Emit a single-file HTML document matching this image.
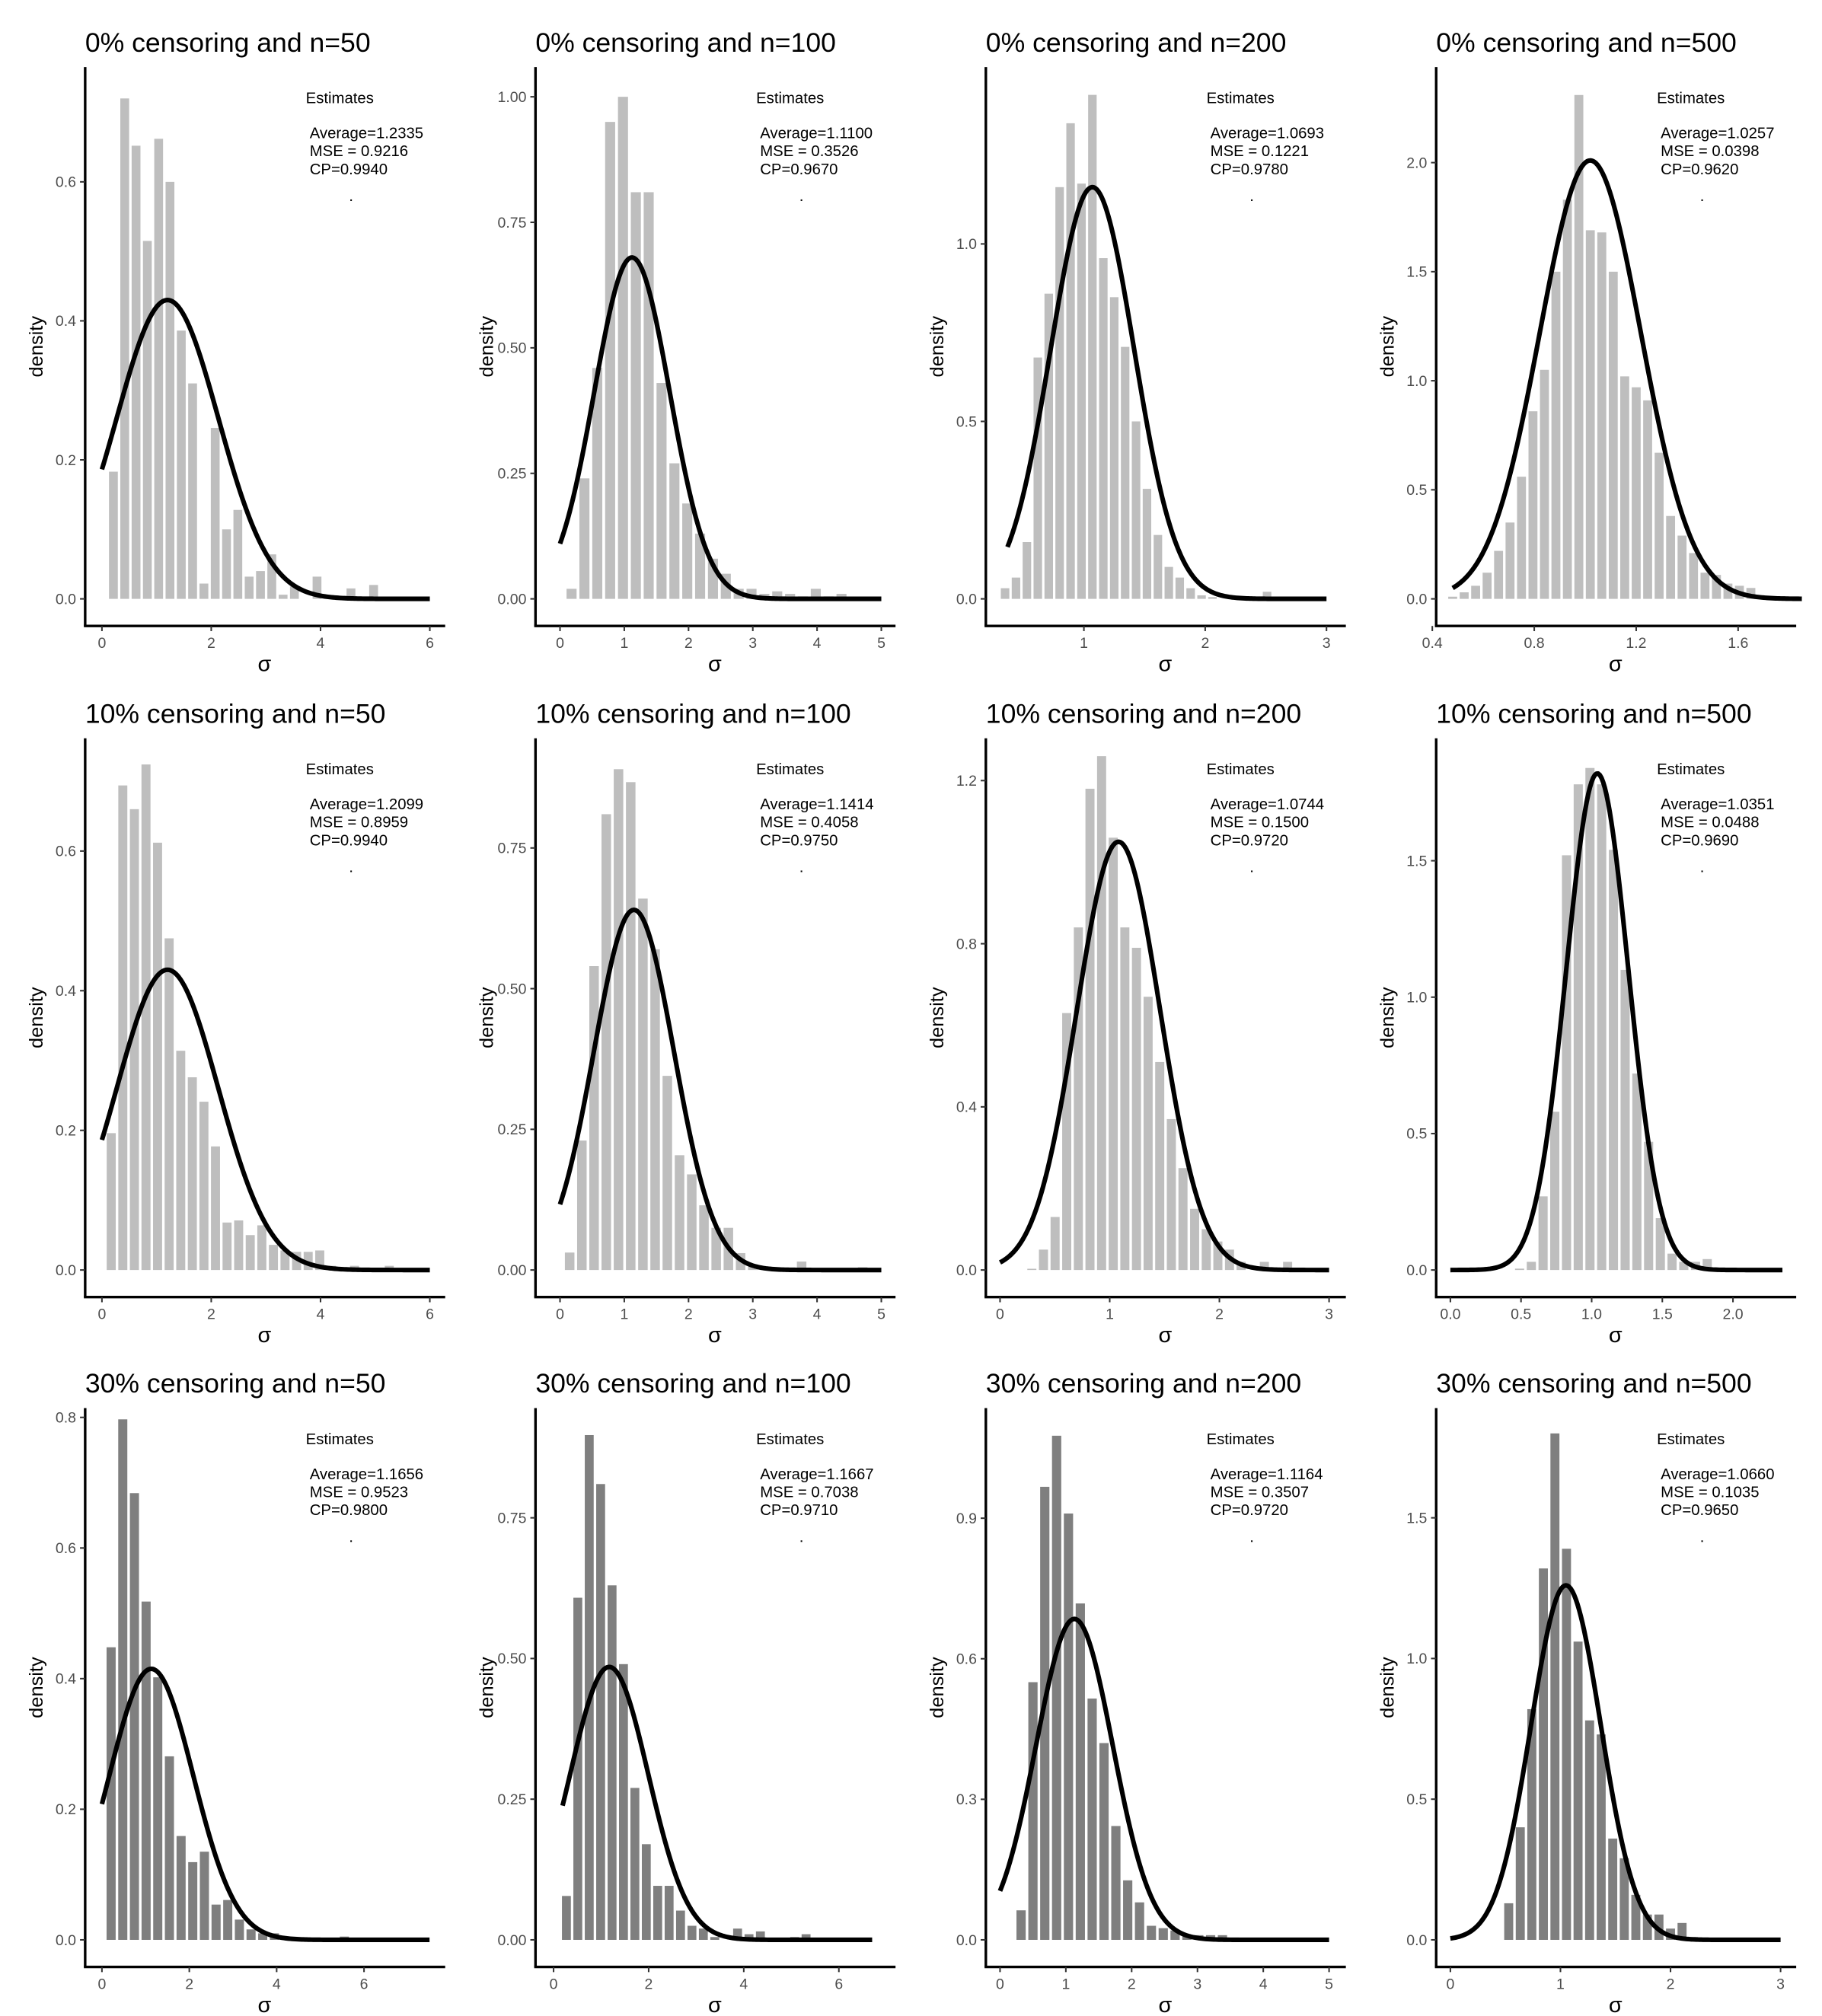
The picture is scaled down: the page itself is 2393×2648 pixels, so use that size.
<!DOCTYPE html>
<html><head><meta charset="utf-8"><style>
html,body{margin:0;padding:0;background:#fff;}
svg{display:block;}
text{font-family:"Liberation Sans",Arial,sans-serif;}
</style></head><body>
<svg id="s" width="2393" height="2648" viewBox="0 0 1412 1562" preserveAspectRatio="none" xmlns="http://www.w3.org/2000/svg"></svg>
<script>
var NS="http://www.w3.org/2000/svg";
var svg=document.getElementById('s');
function el(t,a,txt){var e=document.createElementNS(NS,t);for(var k in a)e.setAttribute(k,a[k]);if(txt!=null)e.textContent=txt;svg.appendChild(e);return e;}
var colOff=[0,349,698,1047], rowOff=[0,520,1039];
var P=[
{t:"0% censoring and n=50",x0:79,sx:42.35,ys:538.5,xt:[0,2,4,6],xd:0,yt:[0,.2,.4,.6],yd:1,m:1.2,p:.43,c0:0,c1:6,
 bs:.21,bw:.207,h:[.183,.72,.652,.515,.662,.6,.386,.31,.022,.246,.1,.128,.032,.04,.064,.006,.018,0,.032,0,0,.015,0,.02],col:"#bebebe",
 a:["1.2335","0.9216","0.9940"]},
{t:"0% censoring and n=100",x0:434,sx:49.8,ys:389,xt:[0,1,2,3,4,5],xd:0,yt:[0,.25,.5,.75,1],yd:2,m:1.12,p:.68,c0:0,c1:5,
 bs:.18,bw:.2,h:[.02,.24,.46,.95,1.0,.81,.81,.43,.27,.19,.13,.08,.05,.02,.02,.01,.015,.01,.005,.02,.005,.01],col:"#bebebe",
 a:["1.1100","0.3526","0.9670"]},
{t:"0% censoring and n=200",x0:746,sx:94,ys:275,xt:[1,2,3],xd:0,yt:[0,.5,1],yd:1,m:1.07,p:1.16,c0:.37,c1:3,
 bs:.35,bw:.09,h:[.03,.06,.16,.68,.86,1.16,1.34,1.17,1.42,.96,.85,.71,.5,.31,.18,.09,.06,.03,.01,.005,0,0,0,0,.02],col:"#bebebe",
 a:["1.0693","0.1221","0.9780"]},
{t:"0% censoring and n=500",x0:1110-197.5*.4,sx:197.5,ys:169,xt:[.4,.8,1.2,1.6],xd:1,yt:[0,.5,1,1.5,2],yd:1,m:1.02,p:2.01,c0:.48,c1:1.85,
 bs:.48,bw:.045,h:[.01,.03,.06,.12,.22,.35,.56,.86,1.05,1.5,1.83,2.31,1.69,1.68,1.5,1.02,.97,.91,.67,.38,.29,.21,.12,.11,.07,.06,.05,.01],col:"#bebebe",
 a:["1.0257","0.0398","0.9620"]},
{t:"10% censoring and n=50",x0:79,sx:42.35,ys:541,xt:[0,2,4,6],xd:0,yt:[0,.2,.4,.6],yd:1,m:1.2,p:.43,c0:0,c1:6,
 bs:.17,bw:.212,h:[.196,.694,.66,.724,.612,.475,.314,.276,.241,.177,.068,.071,.05,.064,.036,.028,.026,.026,.028,.006,0,.006,0,0,.006],col:"#bebebe",
 a:["1.2099","0.8959","0.9940"]},
{t:"10% censoring and n=100",x0:434,sx:49.8,ys:436,xt:[0,1,2,3,4,5],xd:0,yt:[0,.25,.5,.75],yd:2,m:1.15,p:.64,c0:0,c1:5,
 bs:.15,bw:.19,h:[.031,.23,.54,.81,.89,.867,.66,.57,.345,.204,.17,.115,.075,.075,.03,.01,.005,0,0,.015,0,0,0,0,.005],col:"#bebebe",
 a:["1.1414","0.4058","0.9750"]},
{t:"10% censoring and n=200",x0:775,sx:85,ys:316,xt:[0,1,2,3],xd:0,yt:[0,.4,.8,1.2],yd:1,m:1.08,p:1.05,c0:0,c1:3,
 bs:.29,bw:.106,h:[.003,.05,.13,.63,.84,1.18,1.26,1.06,.84,.79,.67,.51,.37,.25,.15,.1,.07,.05,.02,0,.02,0,.02],col:"#bebebe",
 a:["1.0744","0.1500","0.9720"]},
{t:"10% censoring and n=500",x0:1124,sx:109.5,ys:211.4,xt:[0,.5,1,1.5,2],xd:1,yt:[0,.5,1,1.5],yd:1,m:1.04,p:1.82,c0:0,c1:2.35,
 bs:.49,bw:.083,h:[.005,.03,.27,.58,1.52,1.78,1.84,1.78,1.54,1.1,.72,.47,.19,.06,.03,.03,.04],col:"#bebebe",
 a:["1.0351","0.0488","0.9690"]},
{t:"30% censoring and n=50",x0:79,sx:33.85,ys:506,xt:[0,2,4,6],xd:0,yt:[0,.2,.4,.6,.8],yd:1,m:1.13,p:.415,c0:0,c1:7.5,
 bs:.21,bw:.267,h:[.448,.797,.684,.518,.402,.281,.159,.119,.135,.054,.061,.031,.016,.01,.01,0,0,0,0,0,.005],col:"#7f7f7f",
 a:["1.1656","0.9523","0.9800"]},
{t:"30% censoring and n=100",x0:429,sx:36.85,ys:436,xt:[0,2,4,6],xd:0,yt:[0,.25,.5,.75],yd:2,m:1.17,p:.485,c0:.19,c1:6.7,
 bs:.27,bw:.24,h:[.078,.608,.897,.81,.63,.49,.27,.17,.096,.096,.052,.025,.02,.005,0,.02,.01,.015,0,0,.005,.01],col:"#7f7f7f",
 a:["1.1667","0.7038","0.9710"]},
{t:"30% censoring and n=200",x0:775,sx:51,ys:363,xt:[0,1,2,3,4,5],xd:0,yt:[0,.3,.6,.9],yd:1,m:1.13,p:.685,c0:0,c1:5,
 bs:.32,bw:.18,h:[.063,.55,.967,1.076,.91,.718,.515,.42,.243,.127,.08,.03,.025,.02,.01,.01,.01,.01,.005],col:"#7f7f7f",
 a:["1.1164","0.3507","0.9720"]},
{t:"30% censoring and n=500",x0:1124,sx:85.3,ys:218,xt:[0,1,2,3],xd:0,yt:[0,.5,1,1.5],yd:1,m:1.05,p:1.26,c0:0,c1:3,
 bs:.53,bw:.105,h:[.13,.4,.82,1.32,1.8,1.39,1.06,.78,.73,.36,.29,.16,.09,.09,.04,.06,.01],col:"#7f7f7f",
 a:["1.0660","0.1035","0.9650"]}
];
P.forEach(function(q,i){
  var r=Math.floor(i/4),c=i%4,dx=colOff[c],dy=rowOff[r];
  var zero=464+dy, axL=66+dx, axB=485+dy, top=52+dy;
  function XX(v){return q.x0+v*q.sx;}
  function Y(v){return zero-v*q.ys;}
  el('text',{x:axL,y:40+dy,'font-size':21,fill:'#000'},q.t);
  var w=q.bw*q.sx*0.78;
  q.h.forEach(function(h,k){ if(h<=0)return; var cx=XX(q.bs+k*q.bw);
    el('rect',{x:cx-w/2,y:Y(h),width:w,height:h*q.ys,fill:q.col});});
  var sd=1/(q.p*Math.sqrt(2*Math.PI)),d="";
  for(var j=0;j<=200;j++){var v=q.c0+(q.c1-q.c0)*j/200;var y=q.p*Math.exp(-(v-q.m)*(v-q.m)/(2*sd*sd));
    d+=(j?"L":"M")+XX(v).toFixed(2)+","+Y(y).toFixed(2);}
  el('path',{d:d,fill:'none',stroke:'#000','stroke-width':3.6,'stroke-linejoin':'round'});
  el('line',{x1:axL,y1:top,x2:axL,y2:axB,stroke:'#000','stroke-width':2});
  el('line',{x1:axL-1,y1:axB,x2:345+dx,y2:axB,stroke:'#000','stroke-width':2});
  q.yt.forEach(function(v){var y=Y(v);
    el('line',{x1:axL-4,y1:y,x2:axL,y2:y,stroke:'#333','stroke-width':1.2});
    el('text',{x:axL-7,y:y+4,'font-size':11.5,fill:'#4d4d4d','text-anchor':'end'},v.toFixed(q.yd));});
  q.xt.forEach(function(v){var x=XX(v);
    el('line',{x1:x,y1:axB,x2:x,y2:axB+4,stroke:'#333','stroke-width':1.2});
    el('text',{x:x,y:axB+17,'font-size':11.5,fill:'#4d4d4d','text-anchor':'middle'},v.toFixed(q.xd));});
  el('text',{x:205+dx,y:axB+35,'font-size':17,fill:'#000','text-anchor':'middle'},'σ');
  var cy=(top+axB)/2;
  el('text',{x:33+dx,y:cy,'font-size':15,fill:'#000','text-anchor':'middle',transform:'rotate(-90 '+(33+dx)+' '+cy+')'},'density');
  el('text',{x:237+dx,y:80+dy,'font-size':12,fill:'#000'},'Estimates');
  el('text',{x:240+dx,y:107+dy,'font-size':12,fill:'#000'},'Average='+q.a[0]);
  el('text',{x:240+dx,y:121+dy,'font-size':12,fill:'#000'},'MSE = '+q.a[1]);
  el('text',{x:240+dx,y:135+dy,'font-size':12,fill:'#000'},'CP='+q.a[2]);
  el('rect',{x:271.5+dx,y:154.5+dy,width:1.2,height:1.2,fill:'#000'});
});
</script>
</body></html>
